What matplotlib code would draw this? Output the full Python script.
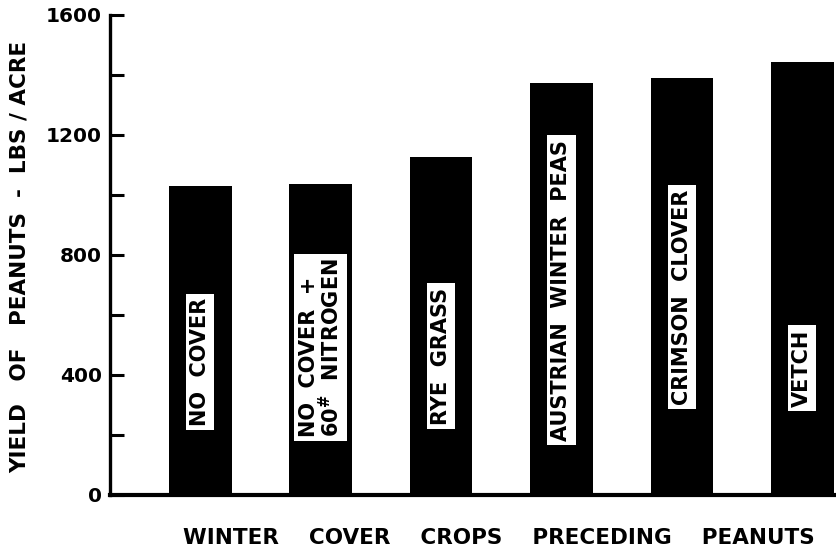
import matplotlib.pyplot as plt

# valores (lbs/acre)
cultivos = ["NO  COVER", "NO  COVER  +\n60$^{\\#}$  NITROGEN", "RYE  GRASS",
            "AUSTRIAN  WINTER  PEAS", "CRIMSON  CLOVER", "VETCH"]
rendimiento = [1030, 1038, 1128, 1373, 1390, 1442]
# altura central de cada rotulo dentro de la barra
rotulo_y = [443, 493, 463, 683, 660, 423]

plt.rcParams["font.family"] = "DejaVu Sans"
plt.rcParams["font.weight"] = "bold"
plt.rcParams["mathtext.default"] = "bf"

fig = plt.figure(figsize=(8.36, 5.49), dpi=100)
ax = fig.add_axes([110 / 836, 1 - 495 / 549, 1 - 110 / 836, 480 / 549])

x = list(range(len(cultivos)))
ax.bar(x, rendimiento, width=0.52, color="black", zorder=2)

for xi, lab, yl in zip(x, cultivos, rotulo_y):
    ax.text(xi, yl, lab, rotation=90, ha="center", va="center", fontsize=15,
            multialignment="left", color="black", zorder=3, linespacing=0.95,
            bbox=dict(boxstyle="square,pad=0.2", fc="white", ec="none"))

ax.set_xlim(-0.75, 5.28)
ax.set_ylim(0, 1600)
ax.set_xticks([])
ax.set_yticks([0, 400, 800, 1200, 1600])
ax.set_yticks([200, 600, 1000, 1400], minor=True)
ax.tick_params(axis="y", which="major", direction="in", length=10, width=2.2,
               labelsize=14.5, pad=6)
ax.tick_params(axis="y", which="minor", direction="in", length=10, width=2.2)

for s in ["top", "right"]:
    ax.spines[s].set_visible(False)
ax.spines["left"].set_linewidth(2.4)
ax.spines["bottom"].set_linewidth(3)

fig.text(20 / 836, 1 - 257 / 549, "YIELD   OF   PEANUTS  -  LBS / ACRE", rotation=90,
         ha="center", va="center", fontsize=15.5)
fig.text(499 / 836, 1 - 538 / 549, "WINTER    COVER    CROPS    PRECEDING    PEANUTS",
         ha="center", va="center", fontsize=15.5)

fig.savefig("out.png", dpi=100, facecolor="white")
